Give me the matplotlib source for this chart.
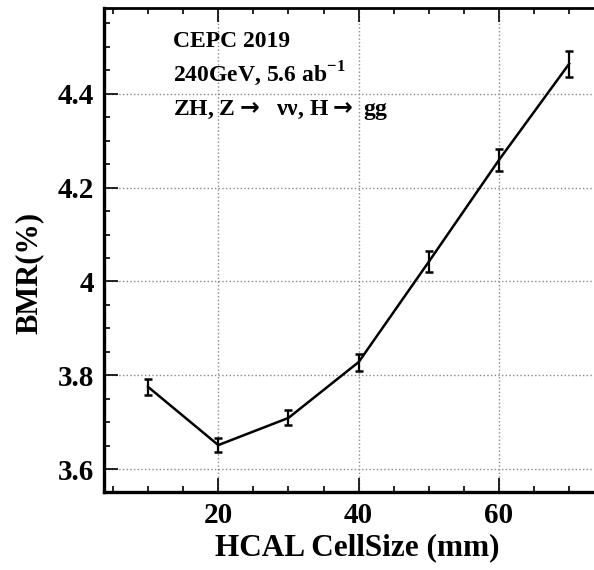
import matplotlib
matplotlib.use("Agg")
import matplotlib.pyplot as plt
from matplotlib.ticker import MultipleLocator

# HCAL cell size scan, boson mass resolution
cell_size = [10, 20, 30, 40, 50, 60, 70]
bmr = [3.775, 3.651, 3.709, 3.828, 4.042, 4.259, 4.464]
bmr_err = [0.018, 0.015, 0.016, 0.018, 0.022, 0.023, 0.028]
x_ticks = [20, 40, 60]
y_ticks = [3.6, 3.8, 4.0, 4.2, 4.4]
y_tick_labels = ["3.6", "3.8", "4", "4.2", "4.4"]
labels = ["CEPC 2019",
          "240GeV, 5.6 ab$^{\\mathbf{-1}}$",
          "ZH, Z$\\mathsf{\\rightarrow}$  \u03bd\u03bd, H$\\mathsf{\\rightarrow}$ gg"]

plt.rcParams['font.family'] = ['Liberation Serif', 'DejaVu Serif']
plt.rcParams['font.weight'] = 'bold'
plt.rcParams['mathtext.fontset'] = 'custom'
plt.rcParams['mathtext.rm'] = 'Liberation Serif:bold'
plt.rcParams['mathtext.bf'] = 'Liberation Serif:bold'
plt.rcParams['mathtext.sf'] = 'DejaVu Sans'

fig = plt.figure(figsize=(5.94, 5.70), dpi=100)
ax = fig.add_axes([104/594, 78/570, 1 - 104/594 + 0.002, (492 - 8)/570])

ax.plot(cell_size, bmr, color='black', lw=1.8, zorder=3)
ax.errorbar(cell_size, bmr, yerr=bmr_err, fmt='none', ecolor='black',
            elinewidth=1.6, capsize=2.8, capthick=1.8, zorder=3)

ax.set_xlim(3.71, 73.71)
ax.set_ylim(3.551, 4.583)

ax.xaxis.set_minor_locator(MultipleLocator(5))
ax.yaxis.set_minor_locator(MultipleLocator(0.05))
ax.set_xticks(x_ticks)
ax.set_yticks(y_ticks)
ax.set_yticklabels(y_tick_labels)

ax.grid(True, which='major', color='#888888', linestyle=':', lw=1.0)
ax.tick_params(which='both', direction='in', top=True, right=False,
               labelsize=21, width=1.2, pad=7)
ax.tick_params(which='major', length=10)
ax.tick_params(which='minor', length=4.5)
for lab in ax.get_xticklabels() + ax.get_yticklabels():
    lab.set_fontweight('bold')

ax.spines['left'].set_linewidth(2.4)
ax.spines['bottom'].set_linewidth(2.4)
ax.spines['top'].set_linewidth(2.0)
ax.spines['right'].set_visible(False)

ax.set_xlabel("HCAL CellSize (mm)", fontsize=22.5, fontweight='bold', labelpad=3)
ax.set_ylabel("BMR(%)", fontsize=22, fontweight='bold', labelpad=10)
ax.xaxis.label.set_x(0.516)
ax.yaxis.label.set_y(0.452)

for i, t in enumerate(labels):
    fig.text(173/594, 1 - (47 + 34*i)/570, t, fontsize=17, fontweight='bold',
             ha='left', va='baseline')

fig.savefig("out.png", dpi=100)
